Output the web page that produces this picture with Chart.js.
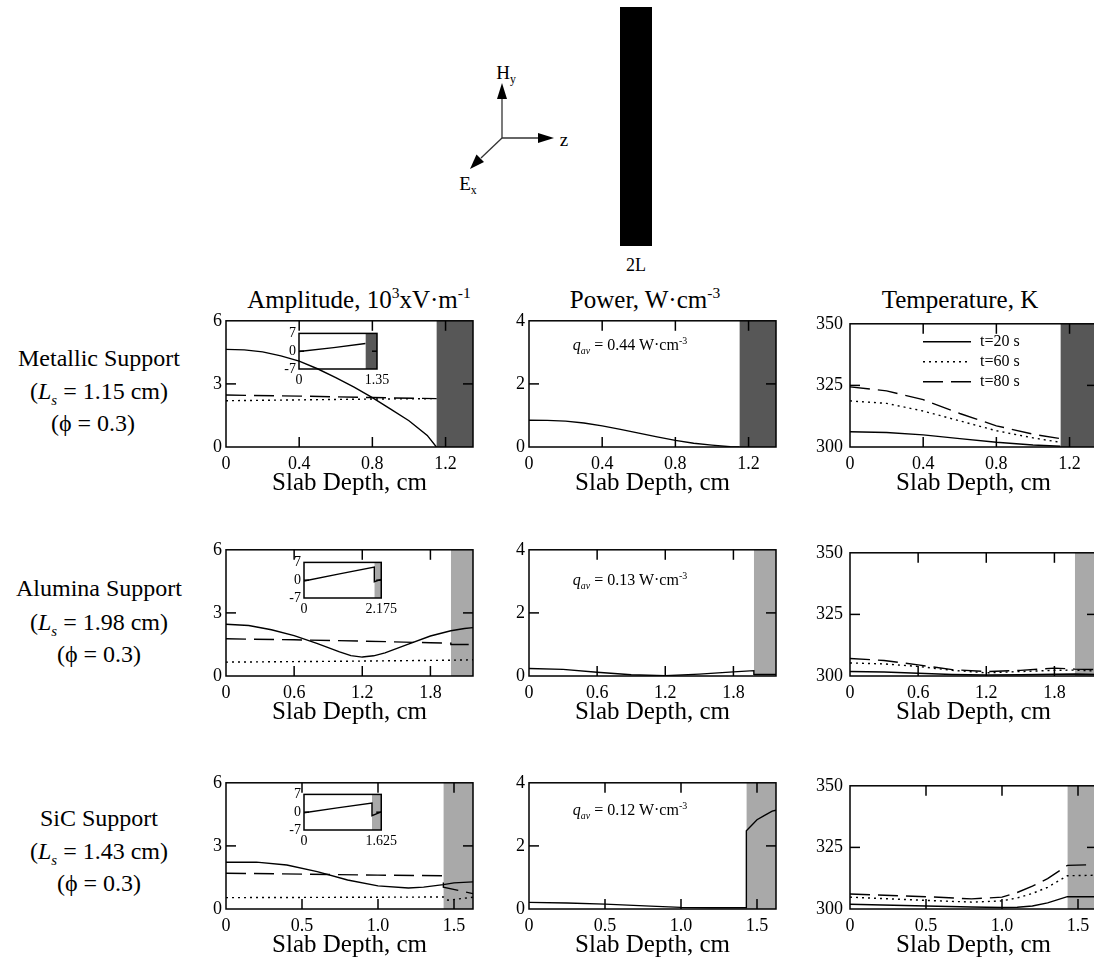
<!DOCTYPE html>
<html><head><meta charset="utf-8">
<script src="https://cdn.jsdelivr.net/npm/chart.js@4.4.0/dist/chart.umd.min.js"></script>
<style>
html,body{margin:0;padding:0;background:#fff;overflow:hidden;width:1094px;height:967px;}
body{position:relative;font-family:"Liberation Serif","Times New Roman",serif;color:#000;}
.t{position:absolute;white-space:nowrap;transform:translate(-50%,-50%);line-height:1;}
canvas{position:absolute;}
sub,sup{font-size:62%;line-height:0;}
.q{font-size:16px;}
.rl{font-size:24px;}
.ti{font-size:25px;}
</style></head><body>

<svg style="position:absolute;left:0;top:0" width="1094" height="285">
  <rect x="620" y="7" width="32" height="239" fill="#000"/>
  <g stroke="#333" stroke-width="1.3">
    <line x1="502" y1="138" x2="502" y2="97"/>
    <line x1="502" y1="138" x2="540" y2="138"/>
    <line x1="502" y1="138" x2="481" y2="158"/>
  </g>
  <polygon points="502,83 497,99 507,99" fill="#000"/>
  <polygon points="554,138 538,133 538,143" fill="#000"/>
  <polygon points="470,169 476.5,154.5 484,162" fill="#000"/>
</svg>
<div class="t" style="left:506px;top:72px;font-size:19px;">H<sub>y</sub></div>
<div class="t" style="left:564px;top:139px;font-size:19px;">z</div>
<div class="t" style="left:468px;top:183px;font-size:19px;">E<sub>x</sub></div>
<div class="t" style="left:636px;top:265px;font-size:18px;">2L</div>

<div class="t ti" style="left:359px;top:299px;">Amplitude, 10<sup>3</sup>xV·m<sup>-1</sup></div>
<div class="t ti" style="left:645px;top:299px;">Power, W·cm<sup>-3</sup></div>
<div class="t ti" style="left:960px;top:299px;">Temperature, K</div>

<div class="t rl" style="left:99px;top:358px;">Metallic Support</div>
<div class="t rl" style="left:99px;top:391px;">(<i>L<sub>s</sub></i> = 1.15 cm)</div>
<div class="t rl" style="left:93px;top:423px;">(ϕ = 0.3)</div>
<div class="t rl" style="left:99px;top:588px;">Alumina Support</div>
<div class="t rl" style="left:99px;top:622px;">(<i>L<sub>s</sub></i> = 1.98 cm)</div>
<div class="t rl" style="left:99px;top:654px;">(ϕ = 0.3)</div>
<div class="t rl" style="left:99px;top:818px;">SiC Support</div>
<div class="t rl" style="left:99px;top:851px;">(<i>L<sub>s</sub></i> = 1.43 cm)</div>
<div class="t rl" style="left:99px;top:883px;">(ϕ = 0.3)</div>

<script>
// ---------------- DATA ----------------
const timeLabels = ['t=20 s', 't=60 s', 't=80 s'];
const supportLs = [1.15, 1.98, 1.43];
const slabMax = [1.35, 2.175, 1.625];
const xTickStep = [0.4, 0.6, 0.5];
const ampTicks = [0, 3, 6];
const powTicks = [0, 2, 4];
const tempTicks = [300, 325, 350];
const insetTicks = [-7, 0, 7];
const qavLabels = ['0.44', '0.13', '0.12'];

// Metallic support
const metAmpX20 = [0, 0.1, 0.2, 0.3, 0.4, 0.5, 0.6, 0.7, 0.8, 0.9, 1.0, 1.1, 1.15];
const metAmp20  = [4.64, 4.62, 4.52, 4.33, 4.08, 3.72, 3.3, 2.85, 2.35, 1.8, 1.25, 0.55, 0];
const metAmpX60 = [0, 0.4, 0.8, 1.15];
const metAmp60  = [2.2, 2.24, 2.28, 2.3];
const metAmpX80 = [0, 0.4, 0.8, 1.15];
const metAmp80  = [2.47, 2.42, 2.35, 2.3];
const metPowX   = [0, 0.1, 0.2, 0.3, 0.4, 0.5, 0.6, 0.7, 0.8, 0.9, 1.0, 1.1, 1.15];
const metPow    = [0.85, 0.845, 0.82, 0.76, 0.67, 0.56, 0.44, 0.32, 0.21, 0.12, 0.06, 0.01, 0];
const metTempX  = [0, 0.2, 0.4, 0.6, 0.8, 1.0, 1.15];
const metTemp20 = [306.2, 305.9, 304.9, 303.4, 301.9, 300.8, 300.3];
const metTemp60 = [318.7, 317.7, 314.6, 310.6, 306.6, 303.7, 301.9];
const metTemp80 = [324.4, 322.8, 319.2, 313.6, 308.6, 305.2, 303.4];
const metInsetX = [0, 0.6, 1.15];
const metInsetY = [-0.1, 1.4, 3.05];

// Alumina support
const aluAmpX20 = [0, 0.2, 0.4, 0.6, 0.8, 1.0, 1.1, 1.2, 1.3, 1.4, 1.6, 1.8, 1.98, 2.1, 2.175];
const aluAmp20  = [2.46, 2.4, 2.2, 1.92, 1.55, 1.15, 0.97, 0.9, 0.96, 1.1, 1.5, 1.9, 2.15, 2.26, 2.3];
const aluAmpX60 = [0, 1.0, 1.98, 2.175];
const aluAmp60  = [0.66, 0.7, 0.75, 0.77];
const aluAmpX80 = [0, 0.6, 1.2, 1.8, 1.98, 1.98, 2.175];
const aluAmp80  = [1.77, 1.72, 1.66, 1.58, 1.56, 1.5, 1.5];
const aluPowX   = [0, 0.3, 0.6, 0.9, 1.2, 1.5, 1.8, 1.98, 1.98, 2.175];
const aluPow    = [0.24, 0.21, 0.12, 0.04, 0.01, 0.06, 0.13, 0.17, 0.05, 0.05];
const aluTempX  = [0, 0.3, 0.6, 0.9, 1.2, 1.5, 1.8, 1.98, 2.175];
const aluTemp20 = [301.8, 301.6, 301.1, 300.6, 300.4, 300.5, 300.7, 300.8, 300.6];
const aluTemp60 = [305.3, 304.9, 303.9, 302.3, 301.3, 301.8, 302.3, 302.4, 302.0];
const aluTemp80 = [307.1, 306.3, 304.5, 302.6, 301.8, 302.3, 303.2, 302.8, 302.6];
const aluInsetX = [0, 1.0, 1.98, 1.98, 2.175];
const aluInsetY = [-0.3, 2.5, 5.2, -0.6, 0.3];

// SiC support
const sicAmpX20 = [0, 0.2, 0.4, 0.6, 0.8, 1.0, 1.2, 1.3, 1.43, 1.5, 1.625];
const sicAmp20  = [2.22, 2.23, 2.09, 1.78, 1.38, 1.1, 1.0, 1.04, 1.16, 1.24, 1.29];
const sicAmpX60 = [0, 1.43, 1.46, 1.625];
const sicAmp60  = [0.54, 0.57, 0.42, 0.56];
const sicAmpX80 = [0, 0.5, 1.0, 1.43, 1.43, 1.625];
const sicAmp80  = [1.7, 1.66, 1.61, 1.58, 1.04, 0.73];
const sicPowX   = [0, 0.25, 0.5, 0.8, 1.0, 1.2, 1.43, 1.43, 1.5, 1.55, 1.6, 1.625];
const sicPow    = [0.21, 0.19, 0.155, 0.09, 0.05, 0.04, 0.04, 2.48, 2.83, 2.97, 3.1, 3.13];
const sicTempX  = [0, 0.5, 0.8, 1.0, 1.1, 1.2, 1.3, 1.43, 1.625];
const sicTemp20 = [301.9, 301.2, 300.8, 300.6, 300.7, 301.2, 302.5, 305.0, 305.0];
const sicTemp60 = [304.8, 303.5, 302.8, 303.3, 304.5, 306.3, 308.8, 313.5, 313.7];
const sicTemp80 = [306.1, 305.0, 304.1, 304.8, 306.7, 309.3, 312.3, 317.7, 318.0];
const sicInsetX = [0, 0.7, 1.43, 1.43, 1.625];
const sicInsetY = [-0.2, 1.7, 3.6, -1.4, 0.1];

// ---------------- STYLE / LAYOUT ----------------
const FONT = '"Liberation Serif", "Times New Roman", serif';
const shadeColors = ['#575757', '#a9a9a9', '#a9a9a9'];
const lineStyles = [[], [2, 4], [20, 8]]; // t=20 solid, t=60 dotted, t=80 dashed
const rowTop = [318, 547, 780];
const colLeft = [226, 529, 850];
const PW = 247, PH = 129;

const frameTicks = {
  id: 'frameTicks',
  afterDatasetsDraw(chart, args, o) {
    const {ctx, chartArea: a, scales: {x, y}} = chart;
    const L = o.len || 10;
    ctx.save();
    ctx.strokeStyle = '#000';
    ctx.lineWidth = o.lw || 1.5;
    ctx.setLineDash([]);
    const seg = (x1, y1, x2, y2) => { ctx.beginPath(); ctx.moveTo(x1, y1); ctx.lineTo(x2, y2); ctx.stroke(); };
    x.ticks.forEach(t => {
      const p = x.getPixelForValue(t.value);
      if (p <= a.left + 1 || p >= a.right - 1) return;
      seg(p, a.bottom, p, a.bottom - L); seg(p, a.top, p, a.top + L);
    });
    y.ticks.forEach(t => {
      const p = y.getPixelForValue(t.value);
      if (p <= a.top + 1 || p >= a.bottom - 1) return;
      seg(a.left, p, a.left + L, p); seg(a.right, p, a.right - L, p);
    });
    ctx.strokeRect(a.left, a.top, a.right - a.left, a.bottom - a.top);
    ctx.restore();
  }
};
const inLegend = {
  id: 'inLegend',
  afterDatasetsDraw(chart, args, o) {
    if (!o || !o.items) return;
    const {ctx, chartArea: a} = chart;
    ctx.save();
    o.items.forEach((idx, i) => {
      const ds = chart.data.datasets[idx];
      const yy = a.top + o.y0 + i * o.dy;
      ctx.strokeStyle = ds.borderColor; ctx.lineWidth = ds.borderWidth;
      ctx.setLineDash(ds.borderDash || []);
      ctx.beginPath(); ctx.moveTo(a.left + o.x0, yy); ctx.lineTo(a.left + o.x1, yy); ctx.stroke();
      ctx.setLineDash([]);
      ctx.fillStyle = '#000'; ctx.font = o.size + 'px ' + FONT; ctx.textBaseline = 'middle'; ctx.textAlign = 'left';
      ctx.fillText(ds.label, a.left + o.tx, yy);
    });
    ctx.restore();
  }
};
Chart.register(frameTicks, inLegend);

const pts = (xs, ys) => xs.map((x, i) => ({x, y: ys[i]}));

function makeChart(g) {
  const c = document.createElement('canvas');
  const W = g.yW + g.w + g.padR, H = g.padT + g.h + g.xH;
  c.width = W; c.height = H;
  c.style.left = (g.left - g.yW) + 'px'; c.style.top = (g.top - g.padT) + 'px';
  c.style.width = W + 'px'; c.style.height = H + 'px';
  document.body.appendChild(c);
  const yTicks = g.yTicks;
  const datasets = [];
  g.series.forEach(s => datasets.push({
    label: s.label, data: pts(s.x, s.y), showLine: true, pointRadius: 0,
    borderColor: '#000', borderWidth: 1.4, borderDash: s.dash, fill: false, tension: 0, order: 1
  }));
  datasets.push({
    label: 'support', data: pts([g.ls, g.xMax], [yTicks[yTicks.length - 1], yTicks[yTicks.length - 1]]),
    showLine: true, pointRadius: 0, borderWidth: 0, borderColor: 'rgba(0,0,0,0)',
    backgroundColor: g.shade, fill: 'start', order: 10
  });
  const xScale = {
    type: 'linear', min: 0, max: g.xMax,
    grid: {display: false, drawTicks: false}, border: {display: false},
    ticks: {stepSize: g.xStep, includeBounds: false, padding: g.xPad, color: '#000', autoSkip: false, maxRotation: 0,
            font: {family: FONT, size: g.tickSize}},
    title: g.xTitle ? {display: true, text: g.xTitle, color: '#000', font: {family: FONT, size: 25}, padding: {top: 0, bottom: 4}} : {display: false},
    afterFit: s => { s.height = g.xH; }
  };
  if (g.xFixed) {
    xScale.afterBuildTicks = s => { s.ticks = g.xFixed.map(v => ({value: v})); };
    xScale.ticks.callback = (v) => g.xFixedLabels[g.xFixed.indexOf(v)];
  }
  const yScale = {
    type: 'linear', min: yTicks[0], max: yTicks[yTicks.length - 1],
    grid: {display: false, drawTicks: false}, border: {display: false},
    afterBuildTicks: s => { s.ticks = yTicks.map(v => ({value: v})); },
    ticks: {padding: g.yPad, color: '#000', autoSkip: false, font: {family: FONT, size: g.tickSize}},
    afterFit: s => { s.width = g.yW; }
  };
  return new Chart(c, {
    type: 'scatter',
    data: {datasets},
    options: {
      responsive: false, animation: false, devicePixelRatio: 1,
      layout: {padding: {top: g.padT, right: g.padR, left: 0, bottom: 0}},
      plugins: {legend: {display: false}, tooltip: {enabled: false},
                frameTicks: {len: g.tickLen, lw: 1.5}, inLegend: g.legend || {}},
      scales: {x: xScale, y: yScale}
    }
  });
}

const ampData = [
  [[metAmpX20, metAmp20], [metAmpX60, metAmp60], [metAmpX80, metAmp80]],
  [[aluAmpX20, aluAmp20], [aluAmpX60, aluAmp60], [aluAmpX80, aluAmp80]],
  [[sicAmpX20, sicAmp20], [sicAmpX60, sicAmp60], [sicAmpX80, sicAmp80]]
];
const powData = [[metPowX, metPow], [aluPowX, aluPow], [sicPowX, sicPow]];
const tempData = [
  [[metTempX, metTemp20], [metTempX, metTemp60], [metTempX, metTemp80]],
  [[aluTempX, aluTemp20], [aluTempX, aluTemp60], [aluTempX, aluTemp80]],
  [[sicTempX, sicTemp20], [sicTempX, sicTemp60], [sicTempX, sicTemp80]]
];
const insetData = [[metInsetX, metInsetY], [aluInsetX, aluInsetY], [sicInsetX, sicInsetY]];
const insetPos = [[299, 328], [304, 557], [304, 789]];
const qavTop = [345, 580, 810];

for (let r = 0; r < 3; r++) {
  const base = {top: rowTop[r], w: PW, h: PH, yW: 60, padT: 12, padR: 12, xH: 55,
                xMax: slabMax[r], xStep: xTickStep[r], ls: supportLs[r], shade: shadeColors[r],
                xTitle: 'Slab Depth, cm', tickSize: 18, xPad: 6, tickLen: 10};
  makeChart(Object.assign({}, base, {
    left: colLeft[0], yTicks: ampTicks, yPad: 4,
    series: ampData[r].map((d, i) => ({label: timeLabels[i], x: d[0], y: d[1], dash: lineStyles[i]}))
  }));
  makeChart(Object.assign({}, base, {
    left: colLeft[1], yTicks: powTicks, yPad: 4,
    series: [{label: 'Power', x: powData[r][0], y: powData[r][1], dash: []}]
  }));
  makeChart(Object.assign({}, base, {
    left: colLeft[2], yTicks: tempTicks, yPad: 7,
    series: tempData[r].map((d, i) => ({label: timeLabels[i], x: d[0], y: d[1], dash: lineStyles[i]})),
    legend: r === 0 ? {items: [0, 1, 2], x0: 73, x1: 121, tx: 130, y0: 18, dy: 20, size: 16} : undefined
  }));
  // inset (phase-like profile) inside amplitude panel
  makeChart({
    left: insetPos[r][0], top: insetPos[r][1], w: 78, h: 41, yW: 26, padT: 6, padR: 18, xH: 22,
    xMax: slabMax[r], xStep: slabMax[r], ls: supportLs[r], shade: shadeColors[r],
    xFixed: [0, slabMax[r]], xFixedLabels: ['0', String(slabMax[r])],
    yTicks: insetTicks, yPad: 3, xPad: 3, tickSize: 14, tickLen: 5,
    series: [{label: 'inset', x: insetData[r][0], y: insetData[r][1], dash: []}]
  });
  // q_av annotation
  const q = document.createElement('div');
  q.className = 't q';
  q.style.left = '630px'; q.style.top = qavTop[r] + 'px';
  q.innerHTML = '<i>q<sub>av</sub></i> = ' + qavLabels[r] + ' W·cm<sup>-3</sup>';
  document.body.appendChild(q);
}
</script>
</body></html>
